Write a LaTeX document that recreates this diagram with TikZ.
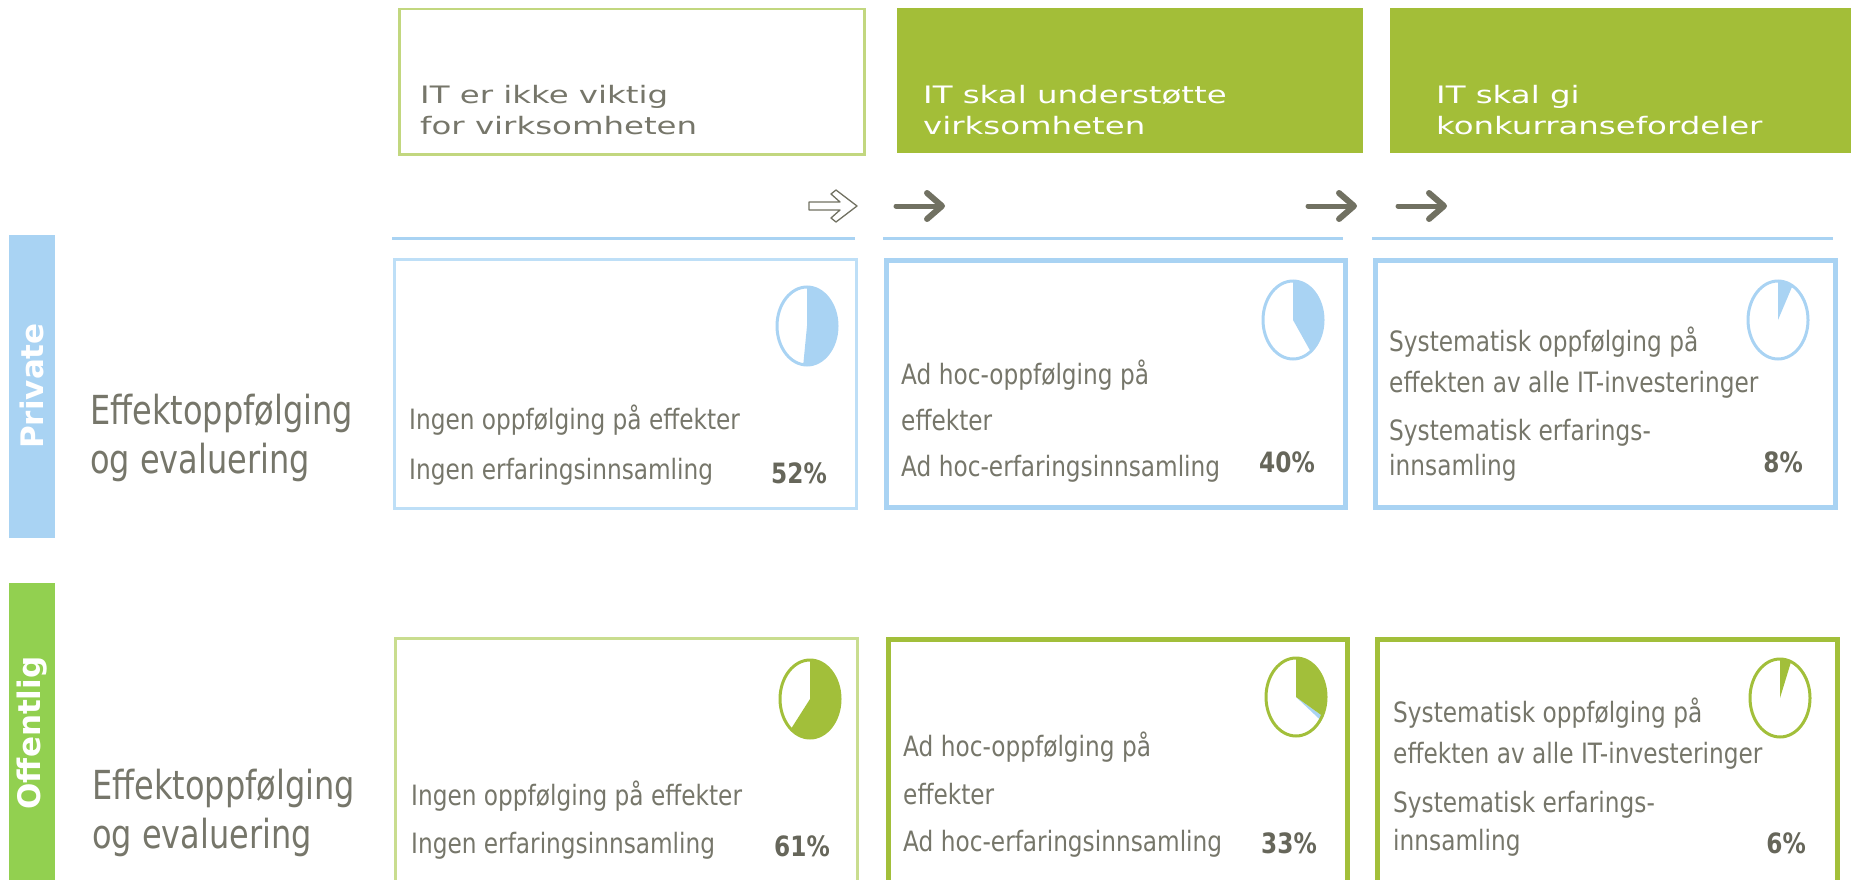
\documentclass[tikz,border=0pt]{standalone}
\usepackage{fontspec}
\setmainfont{DejaVu Sans}
\newfontfamily\bodyf[FakeStretch=0.83]{DejaVu Sans}
\newfontfamily\headf[FakeStretch=1.35]{DejaVu Sans}
\newfontfamily\labf[FakeStretch=0.8]{DejaVu Sans}
\newfontfamily\barf{DejaVu Sans}
\definecolor{hdrgreen}{HTML}{A3BE38}
\definecolor{hdrline}{HTML}{C2D77F}
\definecolor{lblue}{HTML}{A9D3F3}
\definecolor{lbluelt}{HTML}{BEDFF7}
\definecolor{bargreen}{HTML}{92D050}
\definecolor{pgreen}{HTML}{A2BF3A}
\definecolor{pgreenlt}{HTML}{C9DD8F}
\definecolor{txtc}{HTML}{76766A}
\definecolor{pctc}{HTML}{66665A}
\definecolor{arrc}{HTML}{717162}
\newcommand\myarrow[1]{%
  \draw[arrc, line width=5, line cap=round] (#1,206) -- (#1+42,206);
  \draw[arrc, line width=6, line cap=round, line join=round] (#1+31,193) -- (#1+46,206) -- (#1+31,219);}
\newcommand\mypie[4]{% center, percent, fill colour, outline colour
  \fill[#3] (#1) -- ++(0,-39) arc[start angle=-90, end angle={-90+3.6*#2}, x radius=30, y radius=39] -- cycle;
  \draw[#4, line width=3] (#1) ellipse [x radius=30, y radius=39];}
\begin{document}
\begin{tikzpicture}[x=1pt,y=-1pt,
  body/.style={anchor=base west, inner sep=0, text=txtc, font=\bodyf\fontsize{28}{32}\selectfont},
  pct/.style={anchor=base east, inner sep=0, text=pctc, font=\bodyf\bfseries\fontsize{28}{32}\selectfont},
  hdr/.style={anchor=base west, inner sep=0, font=\headf\fontsize{24}{28}\selectfont},
  lab/.style={anchor=base west, inner sep=0, text=txtc, font=\labf\fontsize{40}{44}\selectfont},
  bartxt/.style={rotate=90, inner sep=0, text=white, font=\barf\bfseries\fontsize{31}{31}\selectfont},
  cell/.style={anchor=north west, inner sep=0, minimum width=462, minimum height=249}]
\useasboundingbox (0,0) rectangle (1851,880);
\clip (0,0) rectangle (1851,880);
% header boxes
\node[anchor=north west, inner sep=0, minimum width=465, minimum height=145, draw=hdrline, line width=2.5] (h1) at (398,8) {};
\node[anchor=north west, inner sep=0, minimum width=466, minimum height=145, fill=hdrgreen] (h2) at (897,8) {};
\node[anchor=north west, inner sep=0, minimum width=470, minimum height=145, fill=hdrgreen] (h3) at (1390,8) {};
\node[hdr, text=txtc] (h1a) at (420,103) {IT er ikke viktig};
\node[hdr, text=txtc] (h1b) at (420,135) {for virksomheten};
\node[hdr, text=white] (h2a) at (923,103) {IT skal understøtte};
\node[hdr, text=white] (h2b) at (923,135) {virksomheten};
\node[hdr, text=white] (h3a) at (1436,103) {IT skal gi};
\node[hdr, text=white] (h3b) at (1436,135) {konkurransefordeler};
% arrows
\draw[arrc, line width=1.3, fill=white, line join=round]
  (809,202) -- (840,202) -- (831,194) -- (836,190) -- (857,206) -- (836,222) -- (831,218) -- (840,210) -- (809,210) -- cycle;
\myarrow{896}
\myarrow{1308}
\myarrow{1398}
% blue lines
\draw[lblue, line width=3] (392,238) -- (855,238);
\draw[lblue, line width=3] (883,238) -- (1343,238);
\draw[lblue, line width=3] (1372,238) -- (1833,238);
% side bars
\fill[lblue] (9,235) rectangle (55,538);
\fill[bargreen] (9,583) rectangle (55,880);
\node[bartxt] (privl) at (32,386) {Private};
\node[bartxt] (offl) at (32,733) {Offentlig};
% row labels
\node[lab] (l1a) at (90,424) {Effektoppfølging};
\node[lab] (l1b) at (90,473) {og evaluering};
\node[lab] (l2a) at (92,799) {Effektoppfølging};
\node[lab] (l2b) at (92,848) {og evaluering};
% private cells
\node[cell, draw=lbluelt, line width=2.5] (p1) at (393,258) {};
\node[cell, draw=lblue, line width=5, minimum width=459, minimum height=247] (p2) at (884,258) {};
\node[cell, draw=lblue, line width=5, minimum width=460, minimum height=247] (p3) at (1373,258) {};
\coordinate (pp1) at (807,326);
\coordinate (pp2) at (1293,320);
\coordinate (pp3) at (1778,320);
\mypie{pp1}{52}{lblue}{lblue}
\mypie{pp2}{40}{lblue}{lblue}
\mypie{pp3}{8}{lblue}{lblue}
\node[body] (p1a) at (409,429) {Ingen oppfølging på effekter};
\node[body] (p1b) at (409,479) {Ingen erfaringsinnsamling};
\node[pct] (p1c) at (827,483) {52\%};
\node[body] (p2a) at (901,384) {Ad hoc-oppfølging på};
\node[body] (p2b) at (901,430) {effekter};
\node[body] (p2c) at (901,476) {Ad hoc-erfaringsinnsamling};
\node[pct] (p2d) at (1315,472) {40\%};
\node[body] (p3a) at (1389,351) {Systematisk oppfølging på};
\node[body] (p3b) at (1389,392) {effekten av alle IT-investeringer};
\node[body] (p3c) at (1389,440) {Systematisk erfarings-};
\node[body] (p3d) at (1389,475) {innsamling};
\node[pct] (p3e) at (1803,472) {8\%};
% public cells
\node[cell, draw=pgreenlt, line width=2.5] (o1) at (394,637) {};
\node[cell, draw=pgreen, line width=5, minimum width=459, minimum height=247] (o2) at (886,637) {};
\node[cell, draw=pgreen, line width=5, minimum width=460, minimum height=247] (o3) at (1375,637) {};
\coordinate (op1) at (810,699);
\coordinate (op2) at (1296,697);
\coordinate (op3) at (1780,698);
\mypie{op1}{61}{pgreen}{pgreen}
\fill[lblue] (op2) -- ++({30*cos(-90+3.6*33)},{39*sin(-90+3.6*33)}) arc[start angle={-90+3.6*33}, end angle={-90+3.6*35}, x radius=30, y radius=39] -- cycle;
\mypie{op2}{33}{pgreen}{pgreen}
\mypie{op3}{6}{pgreen}{pgreen}
\node[body] (o1a) at (411,805) {Ingen oppfølging på effekter};
\node[body] (o1b) at (411,853) {Ingen erfaringsinnsamling};
\node[pct] (o1c) at (830,856) {61\%};
\node[body] (o2a) at (903,756) {Ad hoc-oppfølging på};
\node[body] (o2b) at (903,804) {effekter};
\node[body] (o2c) at (903,851) {Ad hoc-erfaringsinnsamling};
\node[pct] (o2d) at (1317,853) {33\%};
\node[body] (o3a) at (1393,722) {Systematisk oppfølging på};
\node[body] (o3b) at (1393,763) {effekten av alle IT-investeringer};
\node[body] (o3c) at (1393,812) {Systematisk erfarings-};
\node[body] (o3d) at (1393,850) {innsamling};
\node[pct] (o3e) at (1806,853) {6\%};
\end{tikzpicture}
\end{document}
